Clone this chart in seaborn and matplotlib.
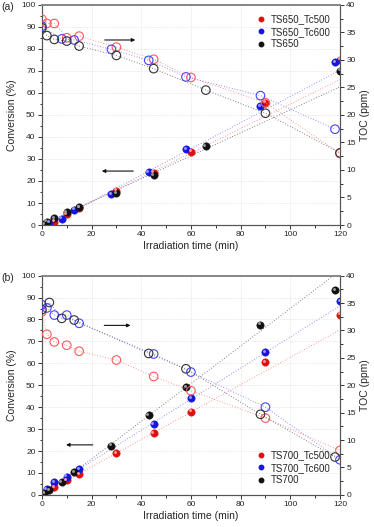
import numpy as np
import pandas as pd
import matplotlib
matplotlib.use("Agg")
import matplotlib.pyplot as plt
import seaborn as sns
from matplotlib.transforms import ScaledTranslation
from matplotlib.lines import Line2D
from matplotlib.ticker import MultipleLocator

# ---- panel (a): conversion (%) vs time (min) ----
a_red_t = [0, 5, 10, 15, 30, 45, 60, 90, 120]
a_red_conv = [0, 1.5, 5, 7.8, 15.5, 23.8, 33.3, 55.5, 75]
a_blue_t = [0, 3, 8, 13, 28, 43, 58, 88, 118]
a_blue_conv = [0, 1, 2.8, 7, 14, 24, 34.5, 54, 73.8]
a_black_t = [1, 2, 5, 10, 15, 30, 45, 66, 120]
a_black_conv = [0.5, 1.5, 3.2, 5.8, 8.2, 14.5, 22.6, 35.7, 70]

# ---- panel (a): TOC (ppm) ----
a_red_toc_t = [0, 2, 5, 10, 15, 30, 45, 60, 90, 120]
a_red_toc = [37.4, 36.6, 36.6, 34.0, 34.3, 32.3, 30.1, 26.8, 22.2, 13.0]
a_blue_toc_t = [0, 8, 13, 28, 43, 58, 88, 118]
a_blue_toc = [36.1, 33.8, 33.6, 31.9, 29.9, 26.9, 23.5, 17.4]
a_black_toc_t = [0, 2, 5, 10, 15, 30, 45, 66, 90, 120]
a_black_toc = [35.8, 34.4, 33.7, 33.4, 32.5, 30.8, 28.4, 24.5, 20.3, 13.1]

# ---- panel (b): conversion (%) ----
b_red_t = [1, 5, 10, 15, 30, 45, 60, 90, 120]
b_red_conv = [0.8, 3.5, 6.8, 9.4, 19, 28.2, 37.9, 60.4, 82.2]
b_blue_t = [0, 2, 5, 10, 15, 45, 60, 90, 120]
b_blue_conv = [0, 2.7, 5.8, 8.3, 11.7, 32.1, 44.2, 65.1, 88.3]
b_black_t = [1, 3, 8, 13, 28, 43, 58, 88, 118]
b_black_conv = [0.5, 2.0, 5.8, 10.3, 22.4, 36.4, 49.2, 77.6, 93.3]

# ---- panel (b): TOC (ppm) ----
b_red_toc_t = [0, 2, 5, 10, 15, 30, 45, 60, 90, 120]
b_red_toc = [33.4, 29.3, 27.9, 27.3, 26.2, 24.6, 21.6, 19.0, 14.0, 8.1]
b_blue_toc_t = [0, 2, 5, 10, 15, 45, 60, 90, 120]
b_blue_toc = [34.7, 34.1, 32.8, 32.8, 31.3, 25.7, 22.4, 16.0, 6.4]
b_black_toc_t = [0, 3, 8, 13, 43, 58, 88, 118]
b_black_toc = [33.8, 35.1, 32.2, 31.9, 25.8, 23.0, 14.7, 6.9]

# fit lines use the first part of each run (up to ~1 h)
fit_tmax = 66

sns.set_style("ticks")
plt.rcParams['font.family'] = ['Liberation Sans', 'DejaVu Sans']

fill_col = {'red': '#e01010', 'blue': '#1515e0', 'black': '#111111'}
hi_col = {'red': '#ff9a9a', 'blue': '#9a9aff', 'black': '#9a9a9a'}
open_col = {'red': '#ff5a5a', 'blue': '#4545ff', 'black': '#333333'}
line_col = {'red': '#ff8080', 'blue': '#7a7aff', 'black': '#666666'}
dots = (0, (0.8, 2.0))

fig = plt.figure(figsize=(3.74, 5.27), dpi=100)


def sphere(ax, t, y, c, s=28):
    sns.scatterplot(x=t, y=y, ax=ax, color=fill_col[c], s=s, linewidth=0.4,
                    edgecolor=fill_col[c], zorder=5, legend=False)
    off = ax.transData + ScaledTranslation(-1.0 / 72, 1.0 / 72, fig.dpi_scale_trans)
    ax.scatter(t, y, s=s * 0.16, color=hi_col[c], linewidths=0, zorder=6,
               transform=off)


def panel(rect, conv, toc, labels, tag, legend_loc, arrows):
    ax = fig.add_axes(rect)
    ax.set_xlim(0, 120)
    ax.set_ylim(0, 100)
    for c, (t, y) in conv.items():
        df = pd.DataFrame({'t': t, 'y': y})
        sub = df[df.t <= fit_tmax]
        sns.regplot(data=sub, x='t', y='y', ax=ax, scatter=False, ci=None,
                    truncate=False,
                    line_kws=dict(color=line_col[c], lw=0.7, ls=dots))
        sphere(ax, t, y, c)
    ax.set_xlim(0, 120)
    ax.set_ylim(0, 100)

    ax2 = ax.twinx()
    for c, (t, y) in toc.items():
        sns.lineplot(x=t, y=y, ax=ax2, color=line_col[c], lw=0.7,
                     ls=dots, sort=False, estimator=None)
        sns.scatterplot(x=t, y=y, ax=ax2, s=38, facecolor='none',
                        edgecolor=open_col[c], linewidth=0.8, zorder=4,
                        legend=False)
    ax2.set_ylim(0, 40)
    ax2.set_xlim(0, 120)

    ax.xaxis.set_major_locator(MultipleLocator(20))
    ax.xaxis.set_minor_locator(MultipleLocator(10))
    ax.yaxis.set_major_locator(MultipleLocator(10))
    ax.yaxis.set_minor_locator(MultipleLocator(5))
    ax2.yaxis.set_major_locator(MultipleLocator(5))
    ax2.yaxis.set_minor_locator(MultipleLocator(2.5))
    ax.grid(True, which='major', color='#dddddd', lw=0.5, ls=(0, (1, 1)))
    for a in (ax, ax2):
        a.tick_params(which='both', direction='out', labelsize=6, width=0.7,
                      color='#333333', pad=1.5)
        a.tick_params(which='major', length=3)
        a.tick_params(which='minor', length=1.8)
        for sp in a.spines.values():
            sp.set_color('#555555')
            sp.set_linewidth(0.8)
        a.spines['top'].set_color('#888888')
        a.spines['top'].set_linewidth(1.3)
    ax.set_xlabel('Irradiation time (min)', fontsize=7.5, labelpad=2)
    ax.set_ylabel('Conversion (%)', fontsize=7.5, labelpad=3)
    ax2.set_ylabel('TOC (ppm)', fontsize=7.5, labelpad=3)

    for (x0, y0, x1, y1) in arrows:
        ax.annotate('', xy=(x1, y1), xytext=(x0, y0),
                    arrowprops=dict(arrowstyle='-|>', color='#111111', lw=0.8,
                                    mutation_scale=5), zorder=7)

    handles = [Line2D([], [], ls='none', marker='o', ms=3.2,
                      color=fill_col[c], mec=fill_col[c]) for c in conv]
    ax2.legend(handles, labels, loc=legend_loc, fontsize=7, frameon=False,
               handletextpad=0.4, labelspacing=0.25, handlelength=1.2,
               borderaxespad=0.6)
    fig.text(0.005, rect[1] + rect[3] - 0.005, tag, fontsize=7.5, va='center')
    return ax, ax2


panel([0.112, 0.573, 0.797, 0.418],
      {'red': (a_red_t, a_red_conv), 'blue': (a_blue_t, a_blue_conv),
       'black': (a_black_t, a_black_conv)},
      {'red': (a_red_toc_t, a_red_toc), 'blue': (a_blue_toc_t, a_blue_toc),
       'black': (a_black_toc_t, a_black_toc)},
      ['TS650_Tc500', 'TS650_Tc600', 'TS650'], '(a)', 'upper right',
      [(24.2, 84, 38.7, 84), (37.9, 24.5, 23, 24.5)])

panel([0.112, 0.061, 0.797, 0.416],
      {'red': (b_red_t, b_red_conv), 'blue': (b_blue_t, b_blue_conv),
       'black': (b_black_t, b_black_conv)},
      {'red': (b_red_toc_t, b_red_toc), 'blue': (b_blue_toc_t, b_blue_toc),
       'black': (b_black_toc_t, b_black_toc)},
      ['TS700_Tc500', 'TS700_Tc600', 'TS700'], '(b)', 'lower right',
      [(24, 77.3, 36.8, 77.3), (21.6, 22.8, 8.6, 22.8)])

fig.savefig('out.png', dpi=100)
